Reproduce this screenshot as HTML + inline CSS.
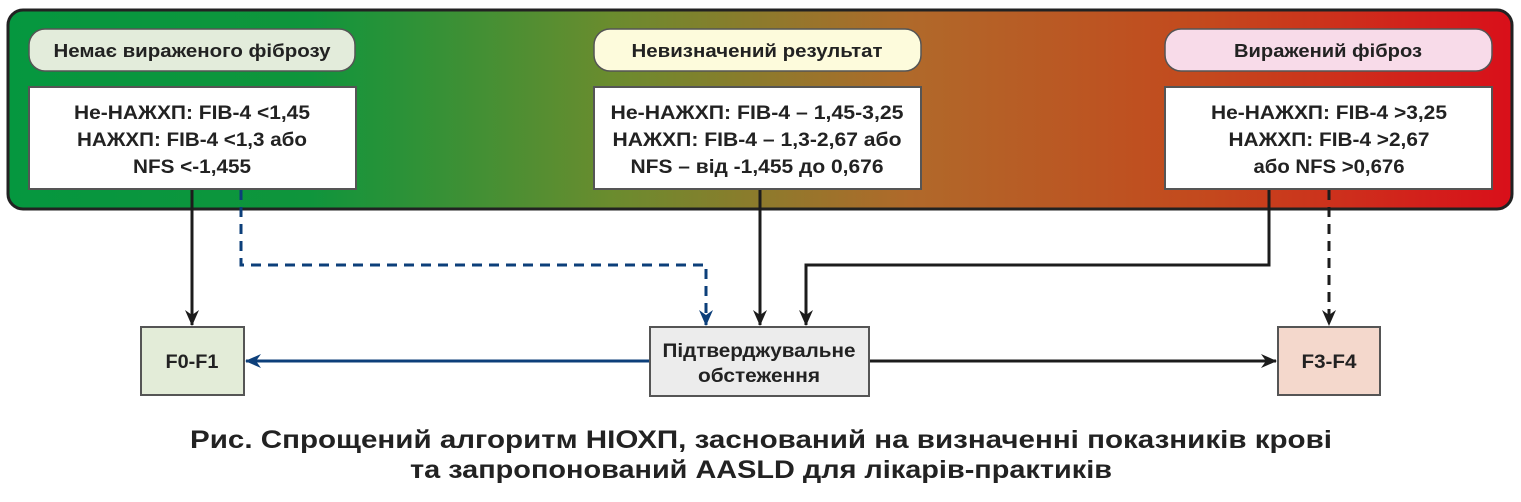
<!DOCTYPE html>
<html><head><meta charset="utf-8"><style>
html,body{margin:0;padding:0;background:#fff;}
svg text{font-family:"Liberation Sans","DejaVu Sans",sans-serif;font-weight:bold;fill:#222;}
</style></head><body>
<svg width="1521" height="497" viewBox="0 0 1521 497" xmlns="http://www.w3.org/2000/svg">
<defs>
<linearGradient id="g" x1="0" x2="1" y1="0" y2="0">
<stop offset="0" stop-color="#05973f"/>
<stop offset="0.2" stop-color="#0f953c"/>
<stop offset="0.4" stop-color="#6a8c2e"/>
<stop offset="0.6" stop-color="#b0692a"/>
<stop offset="0.8" stop-color="#c4481d"/>
<stop offset="1" stop-color="#d90f1a"/>
</linearGradient>
<marker id="ab" markerWidth="16" markerHeight="16" refX="15" refY="8" orient="auto" markerUnits="userSpaceOnUse"><path d="M0,1 L16,8 L0,15 L5,8 z" fill="#1c1c1c"/></marker>
<marker id="abl" markerWidth="16" markerHeight="16" refX="15" refY="8" orient="auto" markerUnits="userSpaceOnUse"><path d="M0,1 L16,8 L0,15 L5,8 z" fill="#0c3f7a"/></marker>
</defs>
<rect x="8" y="10" width="1504" height="199" rx="15" fill="url(#g)" stroke="#222" stroke-width="3"/>
<g font-size="18" text-anchor="middle" lengthAdjust="spacingAndGlyphs">
<rect x="29" y="29" width="326" height="42" rx="16" fill="#e3ecdb" stroke="#555" stroke-width="1.5"/>
<text x="192" y="57" textLength="277" lengthAdjust="spacingAndGlyphs">Немає вираженого фіброзу</text>
<rect x="594" y="29" width="327" height="42" rx="16" fill="#fdfbdc" stroke="#555" stroke-width="1.5"/>
<text x="757" y="57" textLength="251" lengthAdjust="spacingAndGlyphs">Невизначений результат</text>
<rect x="1165" y="29" width="327" height="42" rx="16" fill="#f8dbe9" stroke="#555" stroke-width="1.5"/>
<text x="1328" y="57" textLength="188" lengthAdjust="spacingAndGlyphs">Виражений фіброз</text>
</g>
<g font-size="19" text-anchor="middle">
<rect x="29" y="87" width="327" height="102" fill="#fff" stroke="#555" stroke-width="2"/>
<text x="192" y="119" textLength="236" lengthAdjust="spacingAndGlyphs">Не-НАЖХП: FIB-4 &lt;1,45</text>
<text x="192" y="146" textLength="230" lengthAdjust="spacingAndGlyphs">НАЖХП: FIB-4 &lt;1,3 або</text>
<text x="192" y="173" textLength="118" lengthAdjust="spacingAndGlyphs">NFS &lt;-1,455</text>
<rect x="594" y="87" width="327" height="102" fill="#fff" stroke="#555" stroke-width="2"/>
<text x="757" y="119" textLength="293" lengthAdjust="spacingAndGlyphs">Не-НАЖХП: FIB-4 – 1,45-3,25</text>
<text x="757" y="146" textLength="289" lengthAdjust="spacingAndGlyphs">НАЖХП: FIB-4 – 1,3-2,67 або</text>
<text x="757" y="173" textLength="253" lengthAdjust="spacingAndGlyphs">NFS – від -1,455 до 0,676</text>
<rect x="1165" y="87" width="327" height="102" fill="#fff" stroke="#555" stroke-width="2"/>
<text x="1329" y="119" textLength="236" lengthAdjust="spacingAndGlyphs">Не-НАЖХП: FIB-4 &gt;3,25</text>
<text x="1329" y="146" textLength="201" lengthAdjust="spacingAndGlyphs">НАЖХП: FIB-4 &gt;2,67</text>
<text x="1329" y="173" textLength="151" lengthAdjust="spacingAndGlyphs">або NFS &gt;0,676</text>
</g>
<g fill="none" stroke-width="3">
<path d="M192 190 V325" stroke="#1c1c1c" marker-end="url(#ab)"/>
<path d="M241 190 V265 H706 V325" stroke="#0c3f7a" stroke-dasharray="10,7" marker-end="url(#abl)"/>
<path d="M760 190 V325" stroke="#1c1c1c" marker-end="url(#ab)"/>
<path d="M1269 190 V265 H806 V325" stroke="#1c1c1c" marker-end="url(#ab)"/>
<path d="M1329 190 V325" stroke="#1c1c1c" stroke-dasharray="10,7" marker-end="url(#ab)"/>
<path d="M650 361 H246" stroke="#0c3f7a" marker-end="url(#abl)"/>
<path d="M869 361 H1276" stroke="#1c1c1c" marker-end="url(#ab)"/>
</g>
<g font-size="19" text-anchor="middle">
<rect x="141" y="327" width="103" height="68" fill="#e3ecd8" stroke="#555" stroke-width="2"/>
<text x="192" y="368" textLength="53" lengthAdjust="spacingAndGlyphs">F0-F1</text>
<rect x="650" y="327" width="219" height="69" fill="#ececec" stroke="#555" stroke-width="2"/>
<text x="759" y="357" textLength="193" lengthAdjust="spacingAndGlyphs">Підтверджувальне</text>
<text x="759" y="382" textLength="122" lengthAdjust="spacingAndGlyphs">обстеження</text>
<rect x="1278" y="327" width="102" height="68" fill="#f4d8cc" stroke="#555" stroke-width="2"/>
<text x="1329" y="368" textLength="55" lengthAdjust="spacingAndGlyphs">F3-F4</text>
</g>
<text x="761" y="448" font-size="25" text-anchor="middle" textLength="1142" lengthAdjust="spacingAndGlyphs">Рис. Спрощений алгоритм НІОХП, заснований на визначенні показників крові</text>
<text x="761" y="478" font-size="25" text-anchor="middle" textLength="702" lengthAdjust="spacingAndGlyphs">та запропонований AASLD для лікарів-практиків</text>
</svg>
</body></html>
